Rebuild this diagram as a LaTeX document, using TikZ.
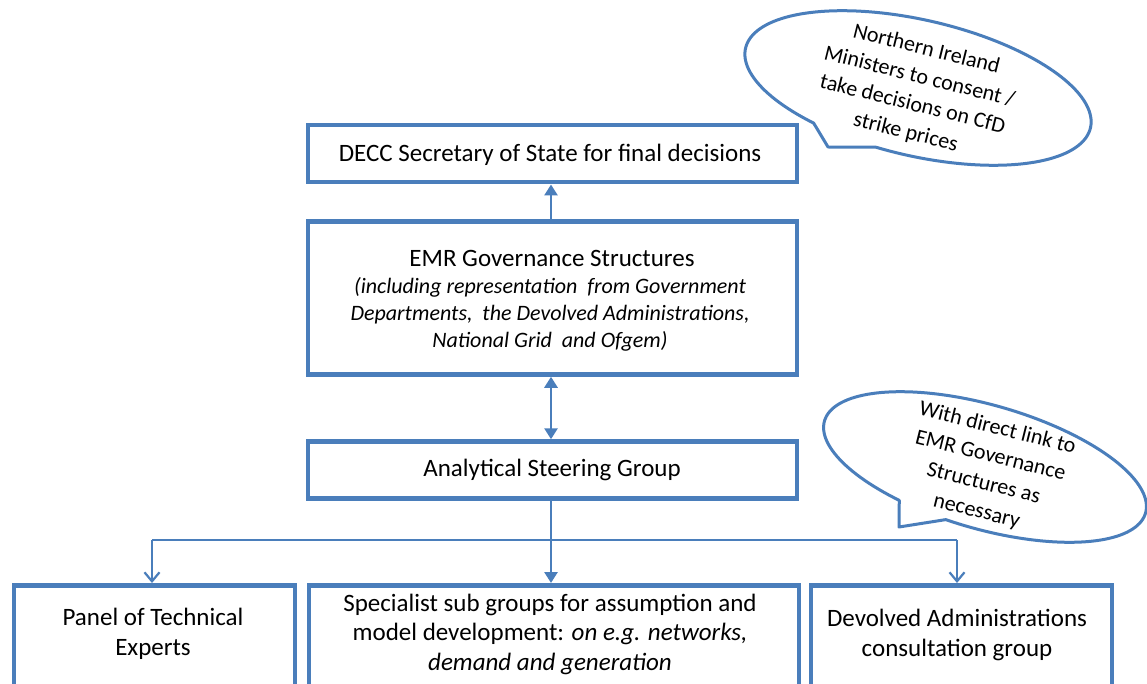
\documentclass[tikz,border=0pt]{standalone}
\usepackage{fontspec}
\setmainfont{Carlito}
\usetikzlibrary{arrows.meta}
\definecolor{boxblue}{RGB}{74,126,187}
\begin{document}
\begin{tikzpicture}[x=1pt,y=-1pt,
  box/.style={draw=boxblue, line width=4.5pt, fill=white, inner sep=0pt},
  conn/.style={draw=boxblue, line width=2.8pt},
  thin/.style={draw=boxblue, line width=2.2pt},
  tip/.style={-{Triangle[length=11pt,width=13pt]}},
  bitip/.style={{Triangle[length=11pt,width=13pt]}-{Triangle[length=11pt,width=13pt]}},
  vtip/.style={-{Straight Barb[length=9pt,width=15pt]}},
  bubble/.style={draw=boxblue, line width=3pt, fill=white, line join=round},
  txt/.style={font=\fontsize{25}{30}\selectfont, align=center, inner sep=0pt},
  itxt/.style={font=\fontsize{22}{27}\selectfont\itshape, align=center, inner sep=0pt},
  btxt/.style={font=\fontsize{25}{29.5}\selectfont, align=center, inner sep=0pt},
  ctxt/.style={font=\fontsize{22}{28.5}\selectfont, align=center, inner sep=0pt, rotate=-14}
]
\useasboundingbox (0,0) rectangle (1147,684);
\clip (0,0) rectangle (1147,684);
\fill[white] (0,0) rectangle (1147,684);

% main boxes
\node[box, minimum width=489pt, minimum height=57pt] (decc) at (552.5,153.75) {};
\node[box, minimum width=489pt, minimum height=153pt] (emr) at (552.5,298) {};
\node[box, minimum width=489pt, minimum height=57pt] (asg) at (552.5,470) {};
\node[box, minimum width=281pt, minimum height=140pt, anchor=north] (panel) at (154.5,583) {};
\node[box, minimum width=490pt, minimum height=140pt, anchor=north] (spec) at (554,583) {};
\node[box, minimum width=301pt, minimum height=140pt, anchor=north] (dev) at (961.5,583) {};

% texts
\node[txt] (tdecc) at (550,155) {DECC Secretary of State for final decisions};
\node[txt] (temr) at (552,258) {EMR Governance Structures};
\node[itxt] (temri) at (550,314) {(including representation\ \ from Government\\Departments,\ \ the Devolved Administrations,\\National Grid\ \ and Ofgem)};
\node[txt] (tasg) at (552,470) {Analytical Steering Group};
\node[btxt] (tpanel) at (153,634) {Panel of Technical\\Experts};
\node[btxt] (tspec) at (550,634) {Specialist sub groups for assumption and\\model development: \textit{on e.g. networks,}\\\textit{demand and generation}};
\node[btxt] (tdev) at (957,635) {Devolved Administrations\\consultation group};

% connectors
\draw[conn, tip] (emr.north -| 551,0) -- (decc.south -| 551,0);
\draw[conn, bitip] (emr.south -| 551,0) -- (asg.north -| 551,0);
\coordinate (hl) at (152,540);
\coordinate (hr) at (957,540);
\coordinate (hm) at (551,540);
\draw[thin] (hl) -- (hr);
\draw[conn, tip] (asg.south -| hm) -- (spec.north -| hm);
\draw[thin, vtip] (hl) -- (panel.north -| hl);
\draw[thin, vtip] (hr) -- (dev.north -| hr);

% callout 1
\draw[bubble] plot[domain=122:459, samples=150, variable=\t]
  ({918 + 177*cos(\t)*cos(13) - 68*sin(\t)*sin(13)}, {88 + 177*cos(\t)*sin(13) + 68*sin(\t)*cos(13)})
  -- (828,147) -- cycle;
\node[ctxt] (c1) at (916,91) {Northern Ireland\\Ministers to consent /\\take decisions on CfD\\strike prices};

% callout 2
\draw[bubble] plot[domain=116:458, samples=150, variable=\t]
  ({985 + 167*cos(\t)*cos(16) - 62*sin(\t)*sin(16)}, {467 + 167*cos(\t)*sin(16) + 62*sin(\t)*cos(16)})
  -- (899,527) -- cycle;
\node[ctxt] (c2) at (987,470) {With direct link to\\EMR Governance\\Structures as\\necessary};
\end{tikzpicture}
\end{document}
